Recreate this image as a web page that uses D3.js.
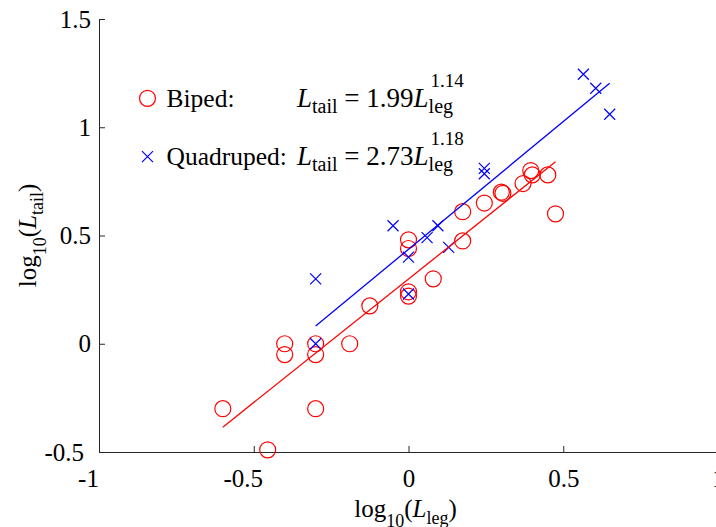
<!DOCTYPE html>
<html>
<head>
<meta charset="utf-8">
<script src="https://cdn.jsdelivr.net/npm/d3@7"></script>
<style>
  body { margin: 0; background: #fff; font-family: "Liberation Serif", serif; }
</style>
</head>
<body>
<div id="chart"></div>
<script>
const xTicks = [-1, -0.5, 0, 0.5, 1];
const yTicks = [-0.5, 0, 0.5, 1, 1.5];

// log10 values
const bipedX = [-0.6, -0.455, -0.4, -0.4, -0.3, -0.3, -0.3, -0.19, -0.125, 0, 0, 0, 0, 0.08,
  0.175, 0.175, 0.245, 0.3, 0.305, 0.37, 0.395, 0.4, 0.45, 0.475];
const bipedY = [-0.3, -0.49, 0, -0.05, 0, -0.05, -0.3, 0, 0.175, 0.24, 0.22, 0.48, 0.44, 0.3,
  0.61, 0.475, 0.65, 0.7, 0.695, 0.74, 0.8, 0.78, 0.78, 0.6];

const quadX = [-0.3, -0.3, 0, -0.05, 0, 0.06, 0.095, 0.13, 0.245, 0.245, 0.565, 0.605, 0.65];
const quadY = [0.3, 0, 0.23, 0.545, 0.4, 0.49, 0.545, 0.445, 0.81, 0.785, 1.245, 1.18, 1.06];

const groups = ["Biped:", "Quadruped:"];
const fitCoef = [1.99, 2.73];
const fitExp = [1.14, 1.18];
const colors = ["#ff0000", "#0000ff"];

const width = 716, height = 527;
const serif = "Liberation Serif, Times New Roman, serif";

const svg = d3.select("#chart").append("svg")
  .attr("width", width)
  .attr("height", height)
  .attr("font-family", serif)
  .style("display", "block");

const x = d3.scaleLinear().domain([-1, 1]).range([99, 718]);
const y = d3.scaleLinear().domain([-0.5, 1.5]).range([452, 19]);

// axes, ticks pointing inward like matlab
const xAxis = d3.axisBottom(x).tickValues(xTicks).tickFormat((d) => String(d))
  .tickSizeInner(-6).tickSizeOuter(0).tickPadding(17);
const yAxis = d3.axisLeft(y).tickValues(yTicks).tickFormat((d) => String(d))
  .tickSizeInner(-6).tickSizeOuter(0).tickPadding(8);

const gx = svg.append("g").attr("transform", `translate(0,${y(-0.5)})`).call(xAxis);
const gy = svg.append("g").attr("transform", `translate(${x(-1)},0)`).call(yAxis);

[gx, gy].forEach((g) => {
  g.attr("font-family", serif).attr("font-size", 25);
  g.selectAll("path, line").attr("stroke", "#262626").attr("stroke-width", 1);
  g.selectAll("text").attr("fill", "#000");
});
gx.selectAll("text").attr("dx", (d) => (d < 0 ? -11 : 0));
gy.selectAll("text").attr("dx", (d) => (d === -0.5 ? -7 : 0));

// axis labels
const xLab = svg.append("text")
  .attr("x", x(0) - 3).attr("y", 517)
  .attr("text-anchor", "middle")
  .attr("font-size", 25);
xLab.append("tspan").text("log");
xLab.append("tspan").attr("font-size", 18).attr("dy", 10).text("10");
xLab.append("tspan").attr("dy", -10).text("(");
xLab.append("tspan").attr("font-style", "italic").text("L");
xLab.append("tspan").attr("font-size", 18).attr("dy", 7).text("leg");
xLab.append("tspan").attr("dy", -7).text(")");

const yLab = svg.append("text")
  .attr("transform", `translate(36,${(y(-0.5) + y(1.5)) / 2}) rotate(-90)`)
  .attr("text-anchor", "middle")
  .attr("font-size", 25);
yLab.append("tspan").text("log");
yLab.append("tspan").attr("font-size", 18).attr("dy", 10).text("10");
yLab.append("tspan").attr("dy", -10).text("(");
yLab.append("tspan").attr("font-style", "italic").text("L");
yLab.append("tspan").attr("font-size", 18).attr("dy", 7).text("tail");
yLab.append("tspan").attr("dy", -7).text(")");

// points
const bipeds = d3.zip(bipedX, bipedY);
const quads = d3.zip(quadX, quadY);

svg.append("g").selectAll("circle")
  .data(bipeds)
  .join("circle")
  .attr("cx", (d) => x(d[0]))
  .attr("cy", (d) => y(d[1]))
  .attr("r", 8)
  .attr("fill", "none")
  .attr("stroke", colors[0])
  .attr("stroke-width", 1.2);

const cross = "M-5.5,-5.5L5.5,5.5M-5.5,5.5L5.5,-5.5";
svg.append("g").selectAll("path")
  .data(quads)
  .join("path")
  .attr("transform", (d) => `translate(${x(d[0])},${y(d[1])})`)
  .attr("d", cross)
  .attr("fill", "none")
  .attr("stroke", colors[1])
  .attr("stroke-width", 1.2);

// fitted power laws: log10(Ltail) = log10(a) + b*log10(Lleg)
const line = d3.line().x((d) => x(d[0])).y((d) => y(d[1]));
[bipedX, quadX].forEach((xs, i) => {
  const pts = d3.extent(xs).map((v) => [v, Math.log10(fitCoef[i]) + fitExp[i] * v]);
  svg.append("path")
    .attr("d", line(pts))
    .attr("fill", "none")
    .attr("stroke", colors[i])
    .attr("stroke-width", 1.3);
});

// legend
const legY = [98.3, 156.7];
groups.forEach((name, i) => {
  const cy = legY[i];
  const base = cy + 8.5;
  if (i === 0) {
    svg.append("circle").attr("cx", 147.5).attr("cy", cy).attr("r", 8)
      .attr("fill", "none").attr("stroke", colors[0]).attr("stroke-width", 1.2);
  } else {
    svg.append("path").attr("transform", `translate(147.5,${cy})`).attr("d", cross)
      .attr("fill", "none").attr("stroke", colors[1]).attr("stroke-width", 1.2);
  }
  svg.append("text")
    .attr("x", 166.5).attr("y", base)
    .attr("font-size", 25.5)
    .text(name);

  // L_tail = a L_leg^b ; sub and sup stacked after the second L
  const x0 = 297;
  const eq = svg.append("text").attr("x", x0).attr("y", base).attr("font-size", 27);
  eq.append("tspan").attr("font-style", "italic").text("L");
  eq.append("tspan").attr("font-size", 20).attr("dy", 6).text("tail");
  eq.append("tspan").attr("dy", -6).text(" = " + fitCoef[i].toFixed(2));
  eq.append("tspan").attr("font-style", "italic").text("L");
  const end = x0 + eq.node().getComputedTextLength();
  svg.append("text").attr("x", end).attr("y", base + 6).attr("font-size", 20).text("leg");
  svg.append("text").attr("x", end + 2).attr("y", base - 20).attr("font-size", 19)
    .text(fitExp[i].toFixed(2));
});
</script>
</body>
</html>
